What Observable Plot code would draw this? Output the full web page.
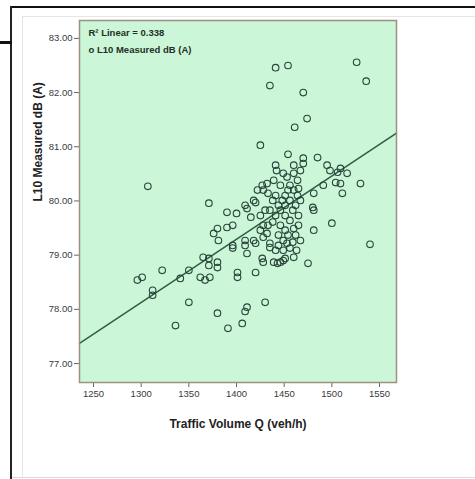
<!DOCTYPE html>
<html>
<head>
<meta charset="utf-8">
<script src="https://cdn.jsdelivr.net/npm/d3@7"></script>
<script src="https://cdn.jsdelivr.net/npm/@observablehq/plot@0.6"></script>
<style>
  html, body { margin: 0; padding: 0; background: #fff; }
  #wrap { position: relative; width: 475px; height: 479px; overflow: hidden; }
  #wrap svg { position: absolute; left: 0; top: 0; }
  .deco { position: absolute; }
  g[aria-label="x-axis tick label"] text, g[aria-label="y-axis tick label"] text {
    font-size: 9.5px; fill: #3a3a3a;
    font-family: "Liberation Sans Narrow", "Liberation Sans", Arial, sans-serif;
  }
</style>
</head>
<body>
<div id="wrap"></div>
<script>
// Traffic volume Q (veh/h)
const volume = [
  1441,1454,1435,1470,1474,1461,1526,1536,1425,1454,1485,1470,1495,1498,1506,1509,1516,1491,1504,1509,
  1511,1530,1481,1480,1481,1467,1500,1481,1540,1475,1460,1470,1467,
  1307,1371,1390,1400,1376,1380,1381,1390,1396,1396,1396,1365,1371,1371,1380,1380,1362,1367,1372,
  1350,1341,1322,1296,1301,1312,1312,1350,1380,1336,1391,1401,1401,1409,1409,1411,1418,1420,
  1427,1428,1439,1443,1449,1451,1420,1430,1409,1411,1406,1411,1420,1415,1441,1442,1432,1427,
  1422,1428,1433,1449,1453,1460,1464,1418,1409,1425,1428,1425,1449,1453,1459,1428,1432,1435,1435,1446,
  1438,1441,1444,1446,1448,1451,1454,1456,1459,1462,1464,1451,1456,1446,1441,1438,1451,1460,1465,1444,
  1454,1462,1435,1446,1456,1460,1460,1463,1441,1449,1433,1465,1451,1444,1456,1430,1439,1467,1465
];
// L10 measured dB (A)
const l10 = [
  82.46,82.50,82.13,82.00,81.52,81.36,82.56,82.21,81.03,80.86,80.80,80.79,80.66,80.56,80.53,80.60,80.51,80.29,80.34,80.32,
  80.14,80.32,80.14,79.88,79.83,80.01,79.59,79.46,79.20,78.85,78.96,80.69,80.56,
  80.27,79.96,79.79,79.77,79.40,79.49,79.27,79.51,79.55,79.18,79.13,78.96,78.94,78.81,78.87,78.77,78.59,78.54,78.59,
  78.72,78.57,78.72,78.54,78.59,78.35,78.26,78.13,77.93,77.70,77.65,78.68,78.59,79.27,79.18,79.03,79.27,79.22,
  78.94,78.87,78.87,78.85,78.90,78.94,78.68,78.13,77.96,78.04,77.74,79.86,79.97,79.70,80.66,80.56,80.32,80.29,
  80.20,80.20,80.14,80.51,80.44,80.51,80.38,80.01,79.92,79.73,79.55,79.46,79.27,79.22,79.24,79.33,79.40,79.22,79.14,78.87,
  80.01,80.10,79.92,79.83,80.01,80.10,80.20,80.01,79.83,79.92,80.10,79.73,79.64,79.55,79.73,79.61,79.46,79.49,79.73,79.37,
  79.37,79.37,79.83,80.29,80.29,80.66,80.20,79.09,79.09,79.09,79.55,79.55,79.92,79.18,79.13,79.83,80.38,79.27,80.23
];
// Fitted linear regression line (R² = 0.338), at the edges of the x range
const fitVolume = [1235.3, 1567.8];
const fitL10 = [77.37, 81.25];

const xTicks = [1250, 1300, 1350, 1400, 1450, 1500, 1550];
const yTicks = [77, 78, 79, 80, 81, 82, 83];
const legendLines = ["R\u00B2 Linear = 0.338", "o L10 Measured dB (A)"];
const xLabel = "Traffic Volume Q (veh/h)";
const yLabel = "L10 Measured dB (A)";

const points = volume.map((v, i) => ({v, l: l10[i]}));
const fit = fitVolume.map((v, i) => ({v, l: fitL10[i]}));

const font = "'Liberation Sans Narrow', 'Liberation Sans', Arial, sans-serif";

const chart = Plot.plot({
  width: 475,
  height: 479,
  marginLeft: 79,
  marginRight: 79,
  marginTop: 20,
  marginBottom: 97,
  style: {background: "transparent", fontFamily: font, color: "#333"},
  x: {domain: [1235.3, 1567.8]},
  y: {domain: [76.65, 83.33]},
  marks: [
    Plot.frame({fill: "#cbf6d7", stroke: "none"}),
    Plot.axisX({ticks: xTicks, tickFormat: d => String(d), tickSize: 5, tickPadding: 3, label: null, stroke: "#666"}),
    Plot.axisY({ticks: yTicks, tickFormat: d3.format(".2f"), tickSize: 5, tickPadding: 2, label: null, stroke: "#666"}),
    Plot.line(fit, {x: "v", y: "l", stroke: "#2f5d45", strokeWidth: 1.5}),
    Plot.dot(points, {x: "v", y: "l", r: 3.3, stroke: "#28443a", strokeWidth: 1.1}),
    Plot.frame({stroke: "#9d9083", strokeWidth: 1.5}),
    Plot.text([legendLines[0]], {frameAnchor: "top-left", dx: 9, dy: 9, text: d => d, fontSize: 9.5, fontWeight: "bold", fill: "#1f2f26", textAnchor: "start"}),
    Plot.text([legendLines[1]], {frameAnchor: "top-left", dx: 9, dy: 26, text: d => d, fontSize: 9.5, fontWeight: "bold", fill: "#1f2f26", textAnchor: "start"}),
    Plot.text([xLabel], {frameAnchor: "bottom", dy: 45, text: d => d, fontSize: 12, fontWeight: "bold", fill: "#222"}),
    Plot.text([yLabel], {frameAnchor: "left", dx: -41, rotate: -90, text: d => d, fontSize: 12, fontWeight: "bold", fill: "#222"})
  ]
});

const wrap = document.getElementById("wrap");
function deco(l, t, w, h, c) {
  const d = document.createElement("div");
  d.className = "deco";
  Object.assign(d.style, {left: l + "px", top: t + "px", width: w + "px", height: h + "px", background: c});
  wrap.appendChild(d);
}
wrap.appendChild(chart);
deco(10, 6, 465, 2, "#111");
deco(10, 6, 2, 473, "#222");
deco(0, 41, 12, 3, "#111");
deco(22, 16, 453, 1, "#e6e6e6");
deco(22, 16, 1, 461, "#e6e6e6");
deco(12, 477, 463, 1, "#dcdcdc");
</script>
</body>
</html>
